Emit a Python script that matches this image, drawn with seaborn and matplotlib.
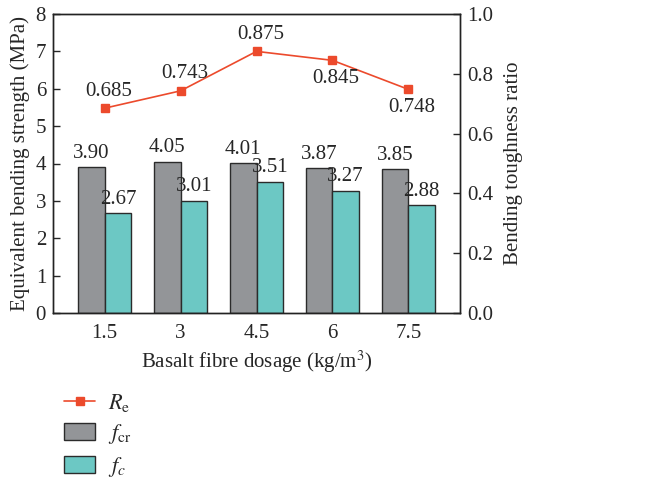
import matplotlib
matplotlib.use("Agg")
import matplotlib.pyplot as plt
import seaborn as sns
import pandas as pd
from matplotlib.lines import Line2D
from matplotlib.patches import Patch

dosage = ["1.5", "3", "4.5", "6", "7.5"]
f_cr = [3.90, 4.05, 4.01, 3.87, 3.85]
f_c = [2.67, 3.01, 3.51, 3.27, 2.88]
R_e = [0.685, 0.743, 0.875, 0.845, 0.748]
re_label_above = [True, True, True, False, False]

sns.set_theme(style="white")
plt.rcParams["font.family"] = ["Liberation Serif", "DejaVu Serif"]
plt.rcParams["mathtext.fontset"] = "stix"

gray = "#939598"
teal = "#6cc8c4"
red = "#ec4a2c"
FS = 15

df = pd.DataFrame({
    "dosage": dosage * 2,
    "value": f_cr + f_c,
    "series": ["fcr"] * len(dosage) + ["fc"] * len(dosage),
})

fig = plt.figure(figsize=(6.47, 4.79), dpi=100)
ax = fig.add_axes([53 / 647, 1 - 313 / 479, (460 - 53) / 647, (313 - 14) / 479])

sns.barplot(data=df, x="dosage", y="value", hue="series", order=dosage,
            hue_order=["fcr", "fc"], palette=[gray, teal], width=0.7,
            edgecolor="#2b2b2b", linewidth=1.0, saturation=1, legend=False, ax=ax)

ax.set_xlim(-0.68, 4.68)
ax.set_ylim(0, 8)
ax.set_yticks(range(0, 9))
ax.set_xlabel("Basalt fibre dosage (kg/m$^3$)", fontsize=FS, labelpad=4)
ax.set_ylabel("Equivalent bending strength (MPa)", fontsize=FS, labelpad=4)
ax.tick_params(axis="y", direction="in", length=5, width=1, labelsize=FS, left=True, pad=5)
ax.tick_params(axis="x", length=0, labelsize=FS, pad=8)
for s in ax.spines.values():
    s.set_color("#222222")
    s.set_linewidth(1.0)

# bar labels
for cont, vals in zip(ax.containers, [f_cr, f_c]):
    for bar, v in zip(cont, vals):
        ax.text(bar.get_x() + bar.get_width() / 2, v + 0.12, f"{v:.2f}",
                ha="center", va="bottom", fontsize=FS)

ax2 = ax.twinx()
ax2.set_position(ax.get_position())
ax2.plot(range(len(dosage)), R_e, color=red, linewidth=1.2, marker="s",
         markersize=6)
ax2.set_ylim(0, 1.0)
ax2.set_yticks([0, 0.2, 0.4, 0.6, 0.8, 1.0])
ax2.set_yticklabels(["0.0", "0.2", "0.4", "0.6", "0.8", "1.0"])
ax2.set_ylabel("Bending toughness ratio", fontsize=FS, labelpad=8)
ax2.tick_params(axis="y", direction="in", length=5, width=1, labelsize=FS, right=True, pad=5)
for s in ax2.spines.values():
    s.set_color("#222222")
    s.set_linewidth(1.0)

for i, (v, above) in enumerate(zip(R_e, re_label_above)):
    if above:
        ax2.text(i + 0.05, v + 0.025, f"{v:.3f}", ha="center", va="bottom", fontsize=FS)
    else:
        ax2.text(i + 0.05, v - 0.03, f"{v:.3f}", ha="center", va="top", fontsize=FS)

handles = [
    Line2D([0], [0], color=red, linewidth=1.2, marker="s", markersize=6),
    Patch(facecolor=gray, edgecolor="#2b2b2b"),
    Patch(facecolor=teal, edgecolor="#2b2b2b"),
]
labels = [r"$R_\mathrm{e}$", r"$f_\mathrm{cr}$", r"$f_c$"]
fig.legend(handles, labels, loc="upper left", bbox_to_anchor=(64 / 647, 1 - 392 / 479),
           frameon=False, fontsize=16, handlelength=1.4, handleheight=0.8,
           handletextpad=0.6, labelspacing=0.38, borderaxespad=0, borderpad=0)

fig.savefig("out.png", dpi=100)
